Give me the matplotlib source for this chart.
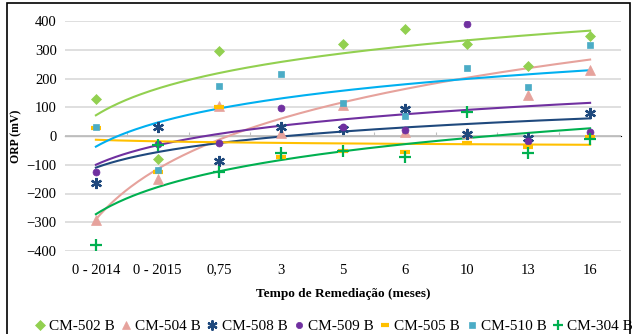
import matplotlib
matplotlib.use("Agg")
import matplotlib.pyplot as plt
from matplotlib.patches import Rectangle
import numpy as np

plt.rcParams['font.family'] = ['Liberation Serif', 'DejaVu Serif']

categories = ["0 - 2014", "0 - 2015", "0,75", "3", "5", "6", "10", "13", "16"]

cm502 = [130, -80, 296, np.nan, 320, 373, 320, 245, 349]
cm504 = [-293, -151, 105, 10, 108, 15, 10, 143, 230]
cm508 = [-165, 30, -86, 32, 24, 95, 7, -8, 79]
cm509 = [-126, -28, -25, 97, 30, 22, 389, -18, 15]
cm505 = [28, -125, 100, -72, -52, -55, -23, -37, -5]
cm510 = [30, -117, 175, 215, 116, 70, 236, 170, 317]
cm304 = [-380, -30, -124, -60, -52, -72, 85, -60, -12]

# logarithmic trendlines (y = a*ln(x) + b)
trend_a = [134, 253, 78, 98, -8, 121, 136]
trend_b = [72, -290, -110, -100, -13, -37, -272]

names = ["CM-502 B", "CM-504 B", "CM-508 B", "CM-509 B", "CM-505 B", "CM-510 B", "CM-304 B"]
series = [cm502, cm504, cm508, cm509, cm505, cm510, cm304]
marker_colors = ["#92D050", "#E6A29C", "#1F497D", "#7030A0", "#FFC000", "#4BACC6", "#00B050"]
line_colors = ["#92D050", "#E6A29C", "#1F497D", "#7030A0", "#FFC000", "#00B0F0", "#00B050"]
markers = ["D", "^", (6, 2, 0), "o", "_", "s", "+"]
msizes = [5.5, 6.5, 8, 5, 7, 5, 8]
mews = [0.5, 0.5, 1.6, 0.5, 3, 0.5, 1.6]

fig = plt.figure(figsize=(6.35, 3.34), dpi=100)
ax = fig.add_axes([65 / 635, 1 - 251 / 334, 556 / 635, 230 / 334])

x = np.arange(1, len(categories) + 1)
xs = np.linspace(1, len(categories), 200)

for i in range(len(series)):
    ax.plot(xs, trend_a[i] * np.log(xs) + trend_b[i], color=line_colors[i], lw=1.5, zorder=3)

handles = []
for i in range(len(series)):
    h, = ax.plot(x, series[i], linestyle='none', marker=markers[i], ms=msizes[i],
                 color=marker_colors[i], mec=marker_colors[i], mew=mews[i], zorder=4,
                 label=names[i])
    handles.append(h)

ax.set_xlim(0.5, len(categories) + 0.5)
ax.set_ylim(-400, 400)
ax.set_yticks(np.arange(-400, 401, 100))
ax.set_xticks(x)
ax.set_xticklabels(categories, fontsize=10.5)
ax.tick_params(axis='y', labelsize=10.5, length=0, pad=6)
ax.tick_params(axis='x', length=0, pad=9)
ax.grid(axis='y', color='#D9D9D9', lw=1.2)
ax.set_axisbelow(True)
for s in ax.spines.values():
    s.set_visible(False)

# category axis crossing at zero
ax.axhline(0, color='#BFBFBF', lw=1.2, zorder=1)
sec = ax.secondary_xaxis(0.5)
sec.set_xticks(np.arange(1.5, len(categories) + 0.5, 1))
sec.xaxis.set_ticklabels([])
sec.tick_params(length=3, color='#BFBFBF', direction='out')
sec.spines['bottom'].set_visible(False)

ax.set_ylabel("ORP (mV)", fontsize=8.5, fontweight='bold')
ax.yaxis.set_label_coords(-(65 - 22) / 556, 0.5)
ax.set_xlabel("Tempo de Remediação (meses)", fontsize=9.5, fontweight='bold', labelpad=8)

fig.legend(handles=handles, loc='center', bbox_to_anchor=(334 / 635, 1 - 326 / 334),
           ncol=7, frameon=False, fontsize=11, handlelength=0.6, handletextpad=0.3,
           columnspacing=0.45, markerscale=0.9, borderaxespad=0, borderpad=0)

fig.add_artist(Rectangle((7 / 635, -0.05), 623 / 635, 1.05 - 3 / 334, transform=fig.transFigure,
                         fill=False, ec='black', lw=1.2))

fig.savefig("out.png", dpi=100)
